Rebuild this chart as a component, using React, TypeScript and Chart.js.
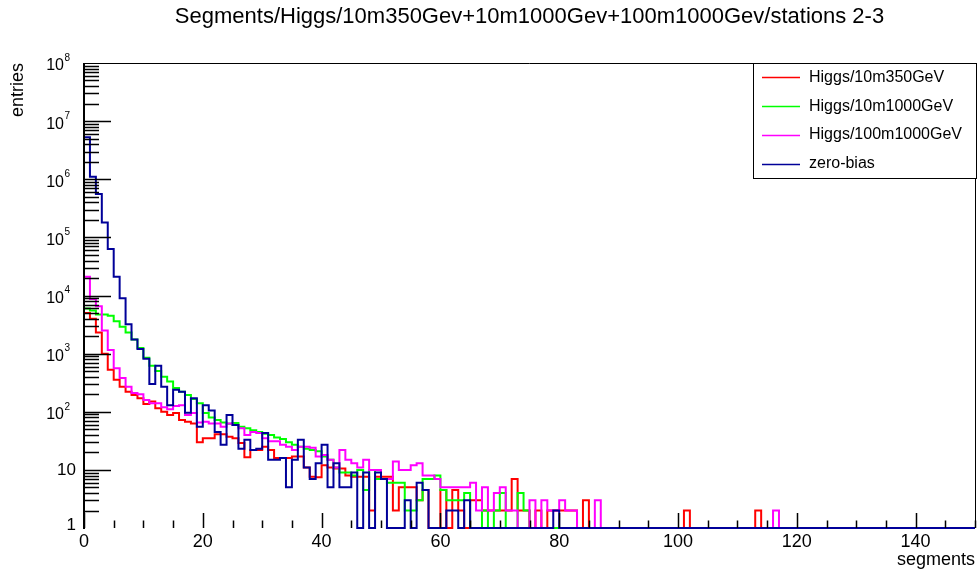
import { useEffect, useRef } from 'react';
import { Chart, registerables } from 'chart.js';

Chart.register(...registerables);

const FONT = '"Liberation Sans", Arial, Helvetica, sans-serif';

const titleText = 'Segments/Higgs/10m350Gev+10m1000Gev+100m1000Gev/stations 2-3';
const xTitle = 'segments';
const yTitle = 'entries';
const seriesLabels = ['Higgs/10m350GeV', 'Higgs/10m1000GeV', 'Higgs/100m1000GeV', 'zero-bias'];
const seriesColors = ['#ff0000', '#00ff00', '#ff00ff', '#000099'];

const xMin = 0;
const xMax = 150;
const xTickStep = 20;
const xMinorStep = 5;
const yMin = 1;
const yMax = 1e8;
const yDecadeExponents = [0, 1, 2, 3, 4, 5, 6, 7, 8];

// bin contents, one entry per unit-wide bin starting at 0
const red = [
  5000, 4000, 2300, 1000, 530, 355, 270, 220, 195, 170,
  136, 150, 115, 100, 88, 95, 72, 67, 63, 30,
  35, 35, 41, 41, 37, 35, 29, 16.5, 22, 22,
  25, 22, 16, 16, 16, 17, 17, 11, 7.6, 7.5,
  12, 11, 10.6, 10.6, 8, 7.6, 7.6, 7.6, 2, 7.6,
  7.6, 7.6, 2, 5, 5, 5, 3, 4.5, 0, 0,
  4.5, 0, 4.5, 2, 0, 3, 3, 2, 2, 2,
  2, 2, 7, 2, 2, 0, 2, 0, 2, 2,
  2, 2, 2, 0, 3, 0, 0, 0, 0, 0,
  0, 0, 0, 0, 0, 0, 0, 0, 0, 0,
  0, 2, 0, 0, 0, 0, 0, 0, 0, 0,
  0, 0, 0, 2, 0, 0, 0, 0, 0, 0,
  0, 0, 0, 0, 0, 0, 0, 0, 0, 0,
  0, 0, 0, 0, 0, 0, 0, 0, 0, 0,
  0, 0, 0, 0, 0, 0, 0, 0, 0, 0,
];

const green = [
  6000, 5500, 4700, 4700, 4500, 3600, 2900, 2300, 1750, 1250,
  850, 620, 500, 400, 330, 255, 220, 195, 165, 140,
  95, 80, 72, 65, 62, 64, 55, 52, 48, 45,
  42, 40, 36, 34, 30, 27, 25, 23, 22, 21,
  17, 15, 11, 9, 9, 8, 10, 4.5, 10, 7,
  7, 6, 6, 6, 2, 2, 3, 7, 7, 8,
  4.5, 3, 3, 3, 4, 0, 0, 2, 0, 2,
  4, 0, 0, 4, 2, 0, 0, 0, 0, 0,
  0, 0, 0, 0, 0, 0, 0, 0, 0, 0,
  0, 0, 0, 0, 0, 0, 0, 0, 0, 0,
  0, 0, 0, 0, 0, 0, 0, 0, 0, 0,
  0, 0, 0, 0, 0, 0, 0, 0, 0, 0,
  0, 0, 0, 0, 0, 0, 0, 0, 0, 0,
  0, 0, 0, 0, 0, 0, 0, 0, 0, 0,
  0, 0, 0, 0, 0, 0, 0, 0, 0, 0,
];

const magenta = [
  21000, 8700, 6500, 2500, 1150, 560, 380, 270, 210, 200,
  160, 140, 140, 120, 110, 125, 130, 88, 95, 65,
  67, 63, 63, 55, 63, 59, 52, 40, 45, 43,
  35, 31, 31, 27, 25, 22, 25, 25, 24, 17,
  18, 15, 11, 22, 15, 13, 11, 15, 10, 10,
  7, 7, 14, 10, 10, 12, 13, 8, 8, 7,
  5, 5, 5, 5, 5, 6, 2, 5, 2, 4,
  5, 2, 2, 0, 0, 3, 0, 3, 2, 2,
  3, 2, 2, 0, 0, 0, 3, 0, 0, 0,
  0, 0, 0, 0, 0, 0, 0, 0, 0, 0,
  0, 0, 0, 0, 0, 0, 0, 0, 0, 0,
  0, 0, 0, 0, 0, 0, 2, 0, 0, 0,
  0, 0, 0, 0, 0, 0, 0, 0, 0, 0,
  0, 0, 0, 0, 0, 0, 0, 0, 0, 0,
  0, 0, 0, 0, 0, 0, 0, 0, 0, 0,
];

const zeroBias = [
  5300000, 1100000, 560000, 180000, 63000, 21000, 9000, 3200, 1750, 1200,
  820, 300, 620, 270, 130, 240, 220, 96, 170, 55,
  130, 105, 45, 27, 88, 59, 23, 33, 22, 23,
  43, 15, 15, 16, 5, 15, 33, 11, 7, 13,
  27, 5, 13, 5, 5, 9, 0, 9, 0, 9,
  7, 0, 0, 0, 3, 0, 6, 4.5, 0, 0,
  0, 2, 2, 0, 3, 0, 0, 0, 0, 0,
  0, 0, 0, 0, 0, 0, 0, 0, 0, 2,
  0, 0, 0, 0, 0, 0, 0, 0, 0, 0,
  0, 0, 0, 0, 0, 0, 0, 0, 0, 0,
  0, 0, 0, 0, 0, 0, 0, 0, 0, 0,
  0, 0, 0, 0, 0, 0, 0, 0, 0, 0,
  0, 0, 0, 0, 0, 0, 0, 0, 0, 0,
  0, 0, 0, 0, 0, 0, 0, 0, 0, 0,
  0, 0, 0, 0, 0, 0, 0, 0, 0, 0,
];

const allSeries = [red, green, magenta, zeroBias];

function histPoints(values: number[]) {
  const pts: { x: number; y: number }[] = [{ x: xMin, y: yMin }];
  values.forEach((v, i) => pts.push({ x: xMin + i, y: v > yMin ? v : yMin }));
  pts.push({ x: xMin + values.length, y: yMin });
  return pts;
}

const rootPlugin = {
  id: 'rootStyle',
  afterDraw(chart: any) {
    const ctx = chart.ctx as CanvasRenderingContext2D;
    const area = chart.chartArea;
    const xs = chart.scales.x;
    const ys = chart.scales.y;
    ctx.save();
    ctx.strokeStyle = '#000';
    ctx.fillStyle = '#000';

    // frame
    ctx.lineWidth = 1;
    ctx.beginPath();
    ctx.moveTo(area.left, area.top + 0.5);
    ctx.lineTo(area.right + 0.5, area.top + 0.5);
    ctx.lineTo(area.right + 0.5, area.bottom);
    ctx.stroke();
    ctx.lineWidth = 2;
    ctx.beginPath();
    ctx.moveTo(area.left, area.top);
    ctx.lineTo(area.left, area.bottom + 1);
    ctx.stroke();

    // x ticks (inside, upward)
    ctx.lineWidth = 1.5;
    ctx.beginPath();
    for (let v = xMin; v <= xMax; v += xMinorStep) {
      const px = Math.round(xs.getPixelForValue(v)) + 0.5;
      const len = v % xTickStep === 0 ? 15 : 7.5;
      ctx.moveTo(px, area.bottom);
      ctx.lineTo(px, area.bottom - len);
    }
    ctx.stroke();

    // y ticks (inside, rightward)
    ctx.beginPath();
    yDecadeExponents.forEach((e) => {
      const base = Math.pow(10, e);
      const py = Math.round(ys.getPixelForValue(base)) + 0.5;
      if (e > 0 && e < 8) {
        ctx.moveTo(area.left, py);
        ctx.lineTo(area.left + 27, py);
      }
      if (e < 8) {
        for (let m = 2; m <= 9; m++) {
          const my = Math.round(ys.getPixelForValue(m * base)) + 0.5;
          ctx.moveTo(area.left, my);
          ctx.lineTo(area.left + 15, my);
        }
      }
    });
    ctx.stroke();

    // y labels
    ctx.textBaseline = 'middle';
    yDecadeExponents.forEach((e) => {
      const py = ys.getPixelForValue(Math.pow(10, e));
      if (e === 0) {
        ctx.font = `17px ${FONT}`;
        ctx.textAlign = 'right';
        ctx.fillText('1', 76, py - 3);
      } else if (e === 1) {
        ctx.font = `17px ${FONT}`;
        ctx.textAlign = 'right';
        ctx.fillText('10', 76, py);
      } else {
        ctx.font = `16px ${FONT}`;
        ctx.textAlign = 'right';
        ctx.fillText('10', 64, py + 3);
        ctx.font = `10px ${FONT}`;
        ctx.textAlign = 'left';
        ctx.fillText(String(e), 64.5, py - 5);
      }
    });

    // axis titles
    ctx.font = `18px ${FONT}`;
    ctx.textAlign = 'right';
    ctx.textBaseline = 'middle';
    ctx.fillText(xTitle, area.right, 560);
    ctx.save();
    ctx.translate(18, area.top);
    ctx.rotate(-Math.PI / 2);
    ctx.textAlign = 'right';
    ctx.fillText(yTitle, 0, 0);
    ctx.restore();

    // title
    ctx.font = `22px ${FONT}`;
    ctx.textAlign = 'center';
    ctx.textBaseline = 'middle';
    ctx.fillText(titleText, (area.left + area.right) / 2, 17);

    // legend
    const lx = 753, ly = 63, lw = 223, lh = 115;
    ctx.fillStyle = '#fff';
    ctx.fillRect(lx, ly, lw, lh);
    ctx.lineWidth = 1;
    ctx.strokeStyle = '#000';
    ctx.strokeRect(lx + 0.5, ly + 0.5, lw, lh);
    ctx.font = `16px ${FONT}`;
    ctx.textAlign = 'left';
    ctx.textBaseline = 'middle';
    chart.data.datasets.forEach((ds: any, i: number) => {
      const cy = ly + lh / 8 + (lh / 4) * i;
      ctx.strokeStyle = ds.borderColor;
      ctx.lineWidth = 1.5;
      ctx.beginPath();
      ctx.moveTo(762, Math.round(cy) + 0.5);
      ctx.lineTo(800, Math.round(cy) + 0.5);
      ctx.stroke();
      ctx.fillStyle = '#000';
      ctx.fillText(ds.label, 809, cy);
    });
    ctx.restore();
  },
};

export default function App() {
  const ref = useRef<HTMLCanvasElement | null>(null);
  useEffect(() => {
    if (!ref.current) return;
    const chart = new Chart(ref.current, {
      type: 'line',
      data: {
        datasets: allSeries.map((vals, i) => ({
          label: seriesLabels[i],
          data: histPoints(vals),
          borderColor: seriesColors[i],
          backgroundColor: seriesColors[i],
          borderWidth: 2,
          pointRadius: 0,
          fill: false,
          stepped: 'before' as const,
          tension: 0,
          clip: 4,
          order: allSeries.length - 1 - i,
        })),
      },
      options: {
        animation: false,
        responsive: false,
        devicePixelRatio: 1,
        parsing: true,
        layout: { padding: { left: 0, right: 3, top: 63, bottom: 0 } },
        plugins: {
          legend: { display: false },
          title: { display: false },
          tooltip: { enabled: false },
        },
        scales: {
          x: {
            type: 'linear',
            min: xMin,
            max: xMax,
            grid: { display: false, drawTicks: false },
            border: { display: false },
            ticks: {
              stepSize: xTickStep,
              includeBounds: false,
              color: '#000',
              font: { family: FONT, size: 18 },
              padding: 3,
              maxRotation: 0,
              autoSkip: false,
            },
            afterFit: (s: any) => {
              s.height = 44;
            },
          },
          y: {
            type: 'logarithmic',
            min: yMin,
            max: yMax,
            grid: { display: false, drawTicks: false },
            border: { display: false },
            ticks: { display: false },
            afterFit: (s: any) => {
              s.width = 84;
            },
          },
        },
      },
      plugins: [rootPlugin],
    });
    return () => chart.destroy();
  }, []);
  return (
    <div style={{ position: 'absolute', left: 0, top: 0, width: 978, height: 572, background: '#fff' }}>
      <canvas ref={ref} width={978} height={572} />
    </div>
  );
}
